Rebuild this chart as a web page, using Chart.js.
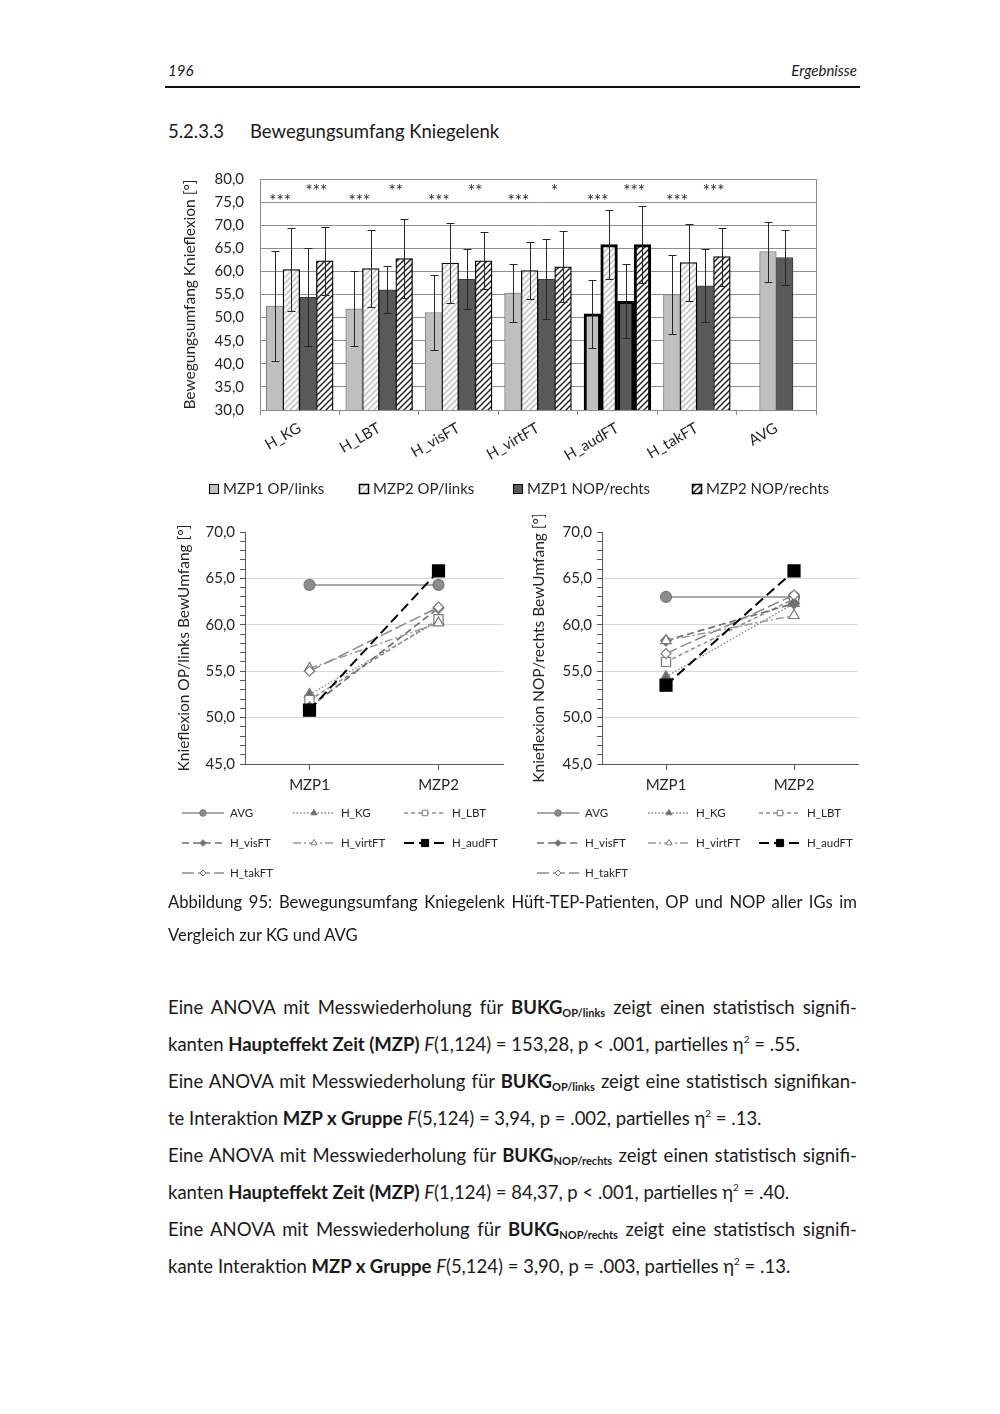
<!DOCTYPE html>
<html>
<head>
<meta charset="utf-8">
<script src="https://cdn.jsdelivr.net/npm/chart.js@4.4.1/dist/chart.umd.min.js"></script>
<style>
body { margin: 0; background: #fff; font-family: Lato, "Open Sans", sans-serif; color: #1a1a1a; }
#page { position: relative; width: 1000px; height: 1414px; overflow: hidden; }
.t { position: absolute; white-space: nowrap; }
.ln { position: absolute; left: 168px; width: 689px; }
.just { text-align: justify; text-align-last: justify; }
.body { font-size: 18.5px; line-height: 37px; }
.cap { font-size: 16.6px; line-height: 33px; }
sub { font-size: 11px; line-height: 0; vertical-align: -3px; }
sup { font-size: 10px; line-height: 0; vertical-align: 8px; }
canvas { position: absolute; }
</style>
</head>
<body>
<div id="page">
  <div class="t" style="left:168px;top:61px;font-size:15px;font-style:italic;">196</div>
  <div class="t" style="right:143px;top:61px;font-size:15px;font-style:italic;">Ergebnisse</div>
  <div style="position:absolute;left:165px;top:86px;width:695px;height:1.5px;background:#111;"></div>
  <div class="t" style="left:168px;top:120px;font-size:18.5px;">5.2.3.3</div>
  <div class="t" style="left:250px;top:120px;font-size:18.5px;">Bewegungsumfang Kniegelenk</div>

  <canvas id="barChart" width="660" height="356" style="left:180px;top:154px;"></canvas>
  <canvas id="lineOp" width="355" height="380" style="left:160px;top:515px;"></canvas>
  <canvas id="lineNop" width="355" height="380" style="left:515px;top:515px;"></canvas>

  <div class="ln cap just" style="top:886px;">Abbildung 95: Bewegungsumfang Kniegelenk Hüft-TEP-Patienten, OP und NOP aller IGs im</div>
  <div class="ln cap" style="top:919px;">Vergleich zur KG und AVG</div>

  <div class="ln body just" style="top:989px;">Eine ANOVA mit Messwiederholung für <b>BUKG<sub>OP/links</sub></b> zeigt einen statistisch signifi-</div>
  <div class="ln body" style="top:1026px;">kanten <b>Haupteffekt Zeit (MZP)</b> <i>F</i>(1,124) = 153,28, p &lt; .001, partielles η<sup>2</sup> = .55.</div>
  <div class="ln body just" style="top:1063px;">Eine ANOVA mit Messwiederholung für <b>BUKG<sub>OP/links</sub></b> zeigt eine statistisch signifikan-</div>
  <div class="ln body" style="top:1100px;">te Interaktion <b>MZP x Gruppe</b> <i>F</i>(5,124) = 3,94, p = .002, partielles η<sup>2</sup> = .13.</div>
  <div class="ln body just" style="top:1137px;">Eine ANOVA mit Messwiederholung für <b>BUKG<sub>NOP/rechts</sub></b> zeigt einen statistisch signifi-</div>
  <div class="ln body" style="top:1174px;">kanten <b>Haupteffekt Zeit (MZP)</b> <i>F</i>(1,124) = 84,37, p &lt; .001, partielles η<sup>2</sup> = .40.</div>
  <div class="ln body just" style="top:1211px;">Eine ANOVA mit Messwiederholung für <b>BUKG<sub>NOP/rechts</sub></b> zeigt eine statistisch signifi-</div>
  <div class="ln body" style="top:1248px;">kante Interaktion <b>MZP x Gruppe</b> <i>F</i>(5,124) = 3,90, p = .003, partielles η<sup>2</sup> = .13.</div>
</div>

<script>
// Gruppen und Mittelwerte (Knieflexion in Grad)
const groups = ['H_KG', 'H_LBT', 'H_visFT', 'H_virtFT', 'H_audFT', 'H_takFT', 'AVG'];
const mzp1Op  = [52.5, 51.9, 51.1, 55.3, 50.8, 55.0, 64.3];
const mzp2Op  = [60.4, 60.6, 61.8, 60.2, 65.8, 61.9, null];
const mzp1Nop = [54.4, 56.0, 58.3, 58.3, 53.5, 56.9, 63.0];
const mzp2Nop = [62.3, 62.8, 62.3, 61.0, 65.8, 63.2, null];

// Standardabweichungen
const sd1Op  = [12.0, 8.1, 8.1, 6.3, 7.4, 8.6, 6.5];
const sd2Op  = [9.0, 8.4, 8.6, 6.1, 7.5, 8.3, null];
const sd1Nop = [10.6, 5.1, 6.5, 8.7, 8.0, 7.9, 5.9];
const sd2Nop = [7.4, 8.5, 6.2, 7.7, 8.3, 6.3, null];

// Signifikanzen MZP1 vs MZP2
const sigOp  = ['***', '***', '***', '***', '***', '***', ''];
const sigNop = ['***', '**', '**', '*', '***', '***', ''];

const timePoints = ['MZP1', 'MZP2'];
const lineOrder = ['AVG', 'H_KG', 'H_LBT', 'H_visFT', 'H_virtFT', 'H_audFT', 'H_takFT'];

Chart.defaults.font.family = 'Lato, "Open Sans", sans-serif';
Chart.defaults.color = '#262626';

const fmt = v => Number(v).toFixed(1).replace('.', ',');

function hatch(color, lw, gap) {
    const c = document.createElement('canvas');
    c.width = gap; c.height = gap;
    const x = c.getContext('2d');
    x.fillStyle = '#fff';
    x.fillRect(0, 0, gap, gap);
    x.strokeStyle = color;
    x.lineWidth = lw;
    x.beginPath();
    x.moveTo(0, gap); x.lineTo(gap, 0);
    x.moveTo(-gap / 2, gap / 2); x.lineTo(gap / 2, -gap / 2);
    x.moveTo(gap / 2, gap * 1.5); x.lineTo(gap * 1.5, gap / 2);
    x.stroke();
    return x.createPattern(c, 'repeat');
}

// Fehlerbalken (SD)
const errorBars = {
    id: 'errorBars',
    afterDatasetsDraw(chart) {
        const ctx = chart.ctx, y = chart.scales.y;
        ctx.save();
        ctx.strokeStyle = '#262626';
        ctx.lineWidth = 1;
        chart.data.datasets.forEach((ds, i) => {
            chart.getDatasetMeta(i).data.forEach((bar, j) => {
                const m = ds.data[j], s = ds.sd[j];
                if (m == null || s == null) return;
                const x = Math.round(bar.x) + 0.5;
                const yt = Math.round(y.getPixelForValue(m + s)) + 0.5;
                const yb = Math.round(y.getPixelForValue(m - s)) + 0.5;
                ctx.beginPath();
                ctx.moveTo(x, yt); ctx.lineTo(x, yb);
                ctx.moveTo(x - 4, yt); ctx.lineTo(x + 4, yt);
                ctx.moveTo(x - 4, yb); ctx.lineTo(x + 4, yb);
                ctx.stroke();
            });
        });
        ctx.restore();
    }
};

// Sternchen über den Gruppen
const stars = {
    id: 'stars',
    afterDatasetsDraw(chart) {
        const ctx = chart.ctx, y = chart.scales.y;
        const m = [0, 1, 2, 3].map(i => chart.getDatasetMeta(i).data);
        ctx.save();
        ctx.fillStyle = '#2a2a2a';
        ctx.font = '17px Lato';
        ctx.textAlign = 'center';
        ctx.textBaseline = 'alphabetic';
        groups.forEach((g, j) => {
            if (sigOp[j]) ctx.fillText(sigOp[j], (m[0][j].x + m[1][j].x) / 2 - 3, y.getPixelForValue(75.9) + 9.5);
            if (sigNop[j]) ctx.fillText(sigNop[j], (m[2][j].x + m[3][j].x) / 2, y.getPixelForValue(78.1) + 9.5);
        });
        ctx.restore();
    }
};

const frame = {
    id: 'frame',
    afterDraw(chart) {
        const a = chart.chartArea, ctx = chart.ctx;
        ctx.save();
        ctx.strokeStyle = '#8c8c8c';
        ctx.lineWidth = 1;
        ctx.strokeRect(Math.round(a.left) + 0.5, Math.round(a.top) + 0.5, Math.round(a.right - a.left), Math.round(a.bottom - a.top));
        ctx.restore();
    }
};

const barLegend = {
    id: 'barLegend',
    afterDraw(chart) {
        const ctx = chart.ctx;
        const xs = [29, 179, 333, 512], y = 335;
        chart.data.datasets.forEach((ds, i) => {
            ctx.save();
            ctx.fillStyle = ds.backgroundColor;
            ctx.fillRect(xs[i], y - 5, 10, 10);
            ctx.strokeStyle = ds.borderColor;
            ctx.lineWidth = (i === 1 || i === 3) ? 1.5 : 1;
            ctx.strokeRect(xs[i] + 0.5, y - 4.5, 9, 9);
            ctx.fillStyle = '#262626';
            ctx.font = '15px Lato';
            ctx.textBaseline = 'middle';
            ctx.fillText(ds.label, xs[i] + 14, y);
            ctx.restore();
        });
    }
};

const thick = (ctx, normal) => ctx.dataIndex === 4 ? 3 : normal;

new Chart(document.getElementById('barChart'), {
    type: 'bar',
    data: {
        labels: groups,
        datasets: [
            { label: 'MZP1 OP/links', data: mzp1Op, sd: sd1Op, backgroundColor: '#bfbfbf',
              borderColor: c => c.dataIndex === 4 ? '#000' : '#7f7f7f', borderWidth: c => thick(c, 1) },
            { label: 'MZP2 OP/links', data: mzp2Op, sd: sd2Op, backgroundColor: hatch('#c4c4c4', 1.6, 6),
              borderColor: '#000', borderWidth: c => thick(c, 1.3) },
            { label: 'MZP1 NOP/rechts', data: mzp1Nop, sd: sd1Nop, backgroundColor: '#595959',
              borderColor: c => c.dataIndex === 4 ? '#000' : '#3a3a3a', borderWidth: c => thick(c, 1) },
            { label: 'MZP2 NOP/rechts', data: mzp2Nop, sd: sd2Nop, backgroundColor: hatch('#262626', 1.5, 6),
              borderColor: '#000', borderWidth: c => thick(c, 1.3) }
        ]
    },
    options: {
        responsive: false,
        animation: false,
        skipNull: true,
        barThickness: 16.7,
        borderSkipped: false,
        layout: { padding: { top: 13, right: 24, bottom: 40, left: 0 } },
        plugins: { legend: { display: false }, tooltip: { enabled: false } },
        scales: {
            x: {
                grid: { offset: true, drawOnChartArea: false, tickLength: 5, color: '#8c8c8c' },
                border: { color: '#8c8c8c' },
                ticks: { maxRotation: 30, minRotation: 30, font: { size: 15 }, padding: 4 },
                afterFit(s) { s.height = 60; }
            },
            y: {
                min: 30, max: 80,
                ticks: { stepSize: 5, callback: fmt, font: { size: 15 }, padding: 16 },
                grid: { color: '#8f8f8f', drawTicks: false },
                border: { color: '#8c8c8c' },
                title: { display: true, text: 'Bewegungsumfang Knieflexion [°]', font: { size: 15.5 }, padding: { top: 1, bottom: 0 } },
                afterFit(s) { s.width = 80; }
            }
        }
    },
    plugins: [errorBars, stars, frame, barLegend]
});

// Linienstile der Gruppen
const lineStyles = {
    AVG:      { color: '#8c8c8c', dash: [], width: 1.5, point: 'circle', r: 5.5, fill: '#8c8c8c', order: 6 },
    H_KG:     { color: '#7f7f7f', dash: [1.5, 2], width: 1.3, point: 'triangle', r: 6, fill: '#6b6b6b', order: 5 },
    H_LBT:    { color: '#8c8c8c', dash: [4, 3], width: 1.5, point: 'rect', r: 6.5, fill: '#fff', order: 4 },
    H_visFT:  { color: '#6f6f6f', dash: [7, 4], width: 1.7, point: 'rectRot', r: 5.5, fill: '#6f6f6f', order: 3 },
    H_virtFT: { color: '#9a9a9a', dash: [8, 3, 2, 3], width: 1.5, point: 'triangle', r: 6, fill: '#fff', order: 2 },
    H_audFT:  { color: '#000', dash: [10, 5], width: 2, point: 'rect', r: 8.5, fill: '#000', order: 0 },
    H_takFT:  { color: '#8c8c8c', dash: [12, 4], width: 1.5, point: 'rectRot', r: 5, fill: '#fff', order: 1 }
};

const lineLegend = {
    id: 'lineLegend',
    afterDraw(chart) {
        const ctx = chart.ctx;
        const cols = [22, 133, 244], rows = [298, 328, 358];
        chart.data.datasets.forEach((ds, k) => {
            const x = cols[k % 3], y = rows[Math.floor(k / 3)];
            ctx.save();
            ctx.strokeStyle = ds.borderColor;
            ctx.lineWidth = ds.borderWidth;
            ctx.setLineDash(ds.borderDash);
            ctx.beginPath();
            ctx.moveTo(x, y); ctx.lineTo(x + 42, y);
            ctx.stroke();
            ctx.setLineDash([]);
            ctx.fillStyle = ds.pointBackgroundColor;
            ctx.strokeStyle = ds.pointBorderColor;
            ctx.lineWidth = 1;
            Chart.helpers.drawPoint(ctx, { pointStyle: ds.pointStyle, radius: ds.pointRadius * 0.6, rotation: 0, borderWidth: 1 }, x + 21, y);
            ctx.fillStyle = '#262626';
            ctx.font = '11.5px Lato';
            ctx.textBaseline = 'middle';
            ctx.fillText(ds.label, x + 48, y);
            ctx.restore();
        });
    }
};

function lineChart(id, first, second, title) {
    const datasets = lineOrder.map(name => {
        const i = groups.indexOf(name);
        const st = lineStyles[name];
        const vals = name === 'AVG' ? [first[i], first[i]] : [first[i], second[i]];
        return {
            label: name, data: vals,
            borderColor: st.color, borderDash: st.dash, borderWidth: st.width,
            pointStyle: st.point, pointRadius: st.r, pointBackgroundColor: st.fill,
            pointBorderColor: st.color === '#000' ? '#000' : '#7a7a7a', pointBorderWidth: 1.2,
            fill: false, tension: 0, order: st.order
        };
    });
    new Chart(document.getElementById(id), {
        type: 'line',
        data: { labels: timePoints, datasets },
        options: {
            responsive: false,
            animation: false,
            layout: { padding: { top: 17, right: 12, bottom: 95, left: 0 } },
            plugins: { legend: { display: false }, tooltip: { enabled: false } },
            scales: {
                x: {
                    offset: true,
                    grid: { offset: false, drawOnChartArea: false, tickLength: 6, color: '#595959' },
                    border: { color: '#595959' },
                    ticks: { font: { size: 15 }, padding: 6 },
                    afterFit(s) { s.height = 36; }
                },
                y: {
                    min: 45, max: 70,
                    ticks: { stepSize: 1, autoSkip: false, font: { size: 15 }, padding: 5,
                             callback: v => v % 5 === 0 ? fmt(v) : '' },
                    grid: {
                        color: c => (c.tick && c.tick.value % 5 === 0 && c.tick.value > 45 && c.tick.value < 70) ? '#d9d9d9' : 'rgba(0,0,0,0)',
                        tickColor: '#595959', tickLength: 5
                    },
                    border: { color: '#595959' },
                    title: { display: true, text: title, font: { size: 15.5 }, padding: { top: 15, bottom: 0 } },
                    afterFit(s) { s.width = id === 'lineOp' ? 85 : 87; }
                }
            }
        },
        plugins: [lineLegend]
    });
}

lineChart('lineOp', mzp1Op, mzp2Op, 'Knieflexion OP/links BewUmfang [°]');
lineChart('lineNop', mzp1Nop, mzp2Nop, 'Knieflexion NOP/rechts BewUmfang [°]');
</script>
</body>
</html>
